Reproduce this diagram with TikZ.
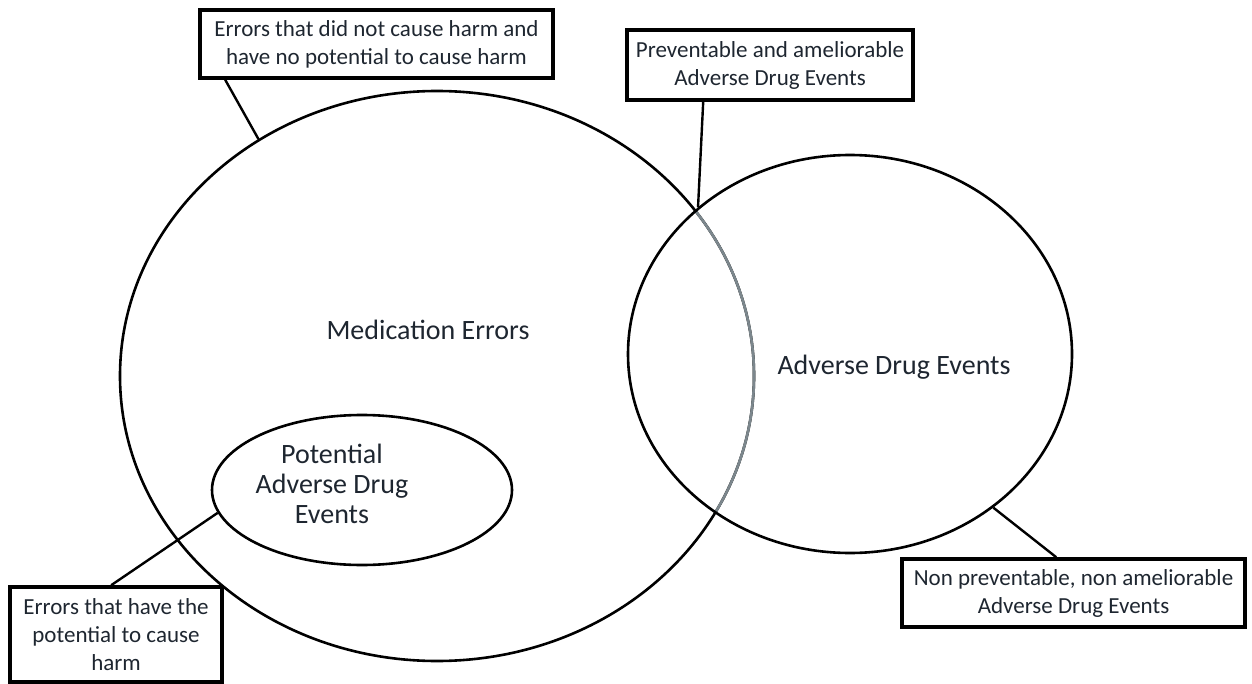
\documentclass[tikz,border=0pt]{standalone}
\usepackage{fontspec}
\setmainfont{Carlito}
\usepackage{tikz}
\usepackage{xcolor}
\usetikzlibrary{shapes,positioning}

\definecolor{labeltext}{HTML}{1E2630}
\definecolor{overlapgray}{HTML}{7C878D}

\begin{document}
\begin{tikzpicture}[x=0.5pt, y=-0.5pt,
    set/.style={draw, ellipse, line width=1.3pt, inner sep=0pt},
    setlabel/.style={text=labeltext, align=center, font=\fontsize{14}{15}\selectfont},
    callout/.style={draw, line width=1.8pt, align=center, text=labeltext, inner sep=0pt, font=\fontsize{11.5}{14}\selectfont},
    link/.style={line width=1.2pt}]
        \useasboundingbox (0,0) rectangle (1252,684);

        % Medication Errors
        \node [set, minimum width=317pt, minimum height=285pt] (mederr) at (437,376) {};
        \node [setlabel] (mederrlabel) at (428,330) {Medication Errors};

        % overlap drawn grey inside Adverse Drug Events
        \begin{scope}
            \clip (850,354) ellipse [x radius=222, y radius=199];
            \draw [overlapgray, line width=1.3pt] (437,376) ellipse [x radius=317, y radius=285];
        \end{scope}

        % Adverse Drug Events
        \node [set, minimum width=222pt, minimum height=199pt] (adverse) at (850,354) {};
        \node [setlabel] (adverselabel) at (894,367) {Adverse Drug Events};

        % Potential Adverse Drug Events
        \node [set, minimum width=150pt, minimum height=75pt] (potential) at (362,490) {};
        \node [setlabel] (potentiallabel) at (332,484) {Potential\\Adverse Drug\\Events};

        % Callouts
        \node [callout, minimum width=176.5pt, minimum height=34pt] (noharm) at (376.5,44) {Errors that did not cause harm and\\have no potential to cause harm};
        \node [callout, minimum width=143pt, minimum height=35pt] (preventable) at (770,65) {Preventable and ameliorable\\Adverse Drug Events};
        \node [callout, minimum width=106pt, minimum height=47.5pt] (potentialharm) at (116,634.5) {Errors that have the\\potential to cause\\harm};
        \node [callout, minimum width=171.5pt, minimum height=34pt] (nonpreventable) at (1073.5,593) {Non preventable, non ameliorable\\Adverse Drug Events};

        \draw [link] ([xshift=13.5pt]noharm.south west) -- (mederr.127);
        \draw [link] ([xshift=39pt]preventable.south west) -- (adverse.136);
        \draw [link] ([xshift=51.5pt]potentialharm.north west) -- (potential.189);
        \draw [link] ([xshift=78pt]nonpreventable.north west) -- (adverse.-47);
    \end{tikzpicture}
\end{document}
